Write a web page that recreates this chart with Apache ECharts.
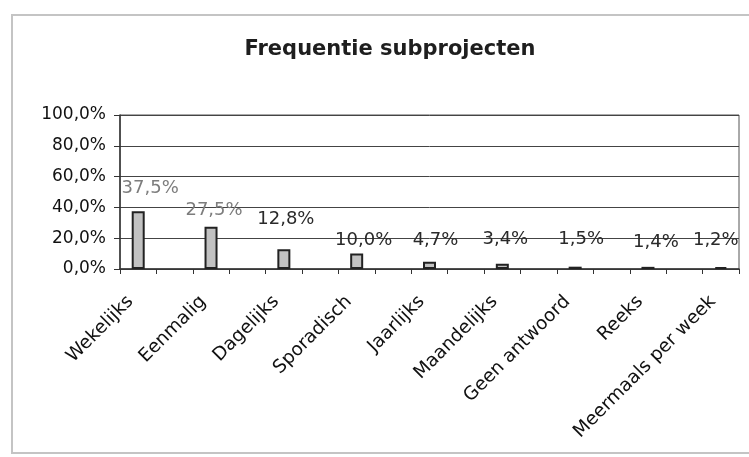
<!DOCTYPE html>
<html>
<head>
<meta charset="utf-8">
<script src="https://cdn.jsdelivr.net/npm/echarts@6/dist/echarts.min.js"></script>
<style>
  html, body { margin: 0; padding: 0; background: #fff; }
  #chart { width: 749px; height: 457px; }
</style>
</head>
<body>
<div id="chart"></div>
<script>
// Frequency of sub-projects, share of all sub-projects (%)
const categories = ['Wekelijks', 'Eenmalig', 'Dagelijks', 'Sporadisch', 'Jaarlijks',
  'Maandelijks', 'Geen antwoord', 'Reeks', 'Meermaals per week'];
const shares = [37.5, 27.5, 12.8, 10.0, 4.7, 3.4, 1.5, 1.4, 1.2];
const yTicks = [0, 20, 40, 60, 80, 100];

// Per-label nudges and colours for the value labels
const labelNudges = [[12, -9], [3, -2], [2, -16], [7, 1], [6, -7], [3, -10], [6, -13], [8, -11], [-5, -13]];
const labelColors = ['#7d7d7d', '#7d7d7d', '#2a2a2a', '#2a2a2a', '#2a2a2a', '#2a2a2a', '#2a2a2a', '#2a2a2a', '#2a2a2a'];

const pct = v => v.toFixed(1).replace('.', ',') + '%';

// The axis has a spacer slot between every pair of categories
const slots = [];
const barData = [];
categories.forEach((name, i) => {
  slots.push(name);
  barData.push({
    value: shares[i],
    label: { offset: labelNudges[i], color: labelColors[i] }
  });
  if (i < categories.length - 1) {
    slots.push('');
    barData.push('-');
  }
});

const chart = echarts.init(document.getElementById('chart'), null, { renderer: 'canvas' });
chart.setOption({
  animation: false,
  backgroundColor: '#fff',
  graphic: [{
    type: 'rect',
    shape: { x: 12, y: 15, width: 745, height: 438 },
    style: { fill: 'none', stroke: '#c4c4c4', lineWidth: 2 },
    silent: true,
    z: -1
  }],
  title: {
    text: 'Frequentie subprojecten',
    left: 385,
    top: 34,
    textAlign: 'center',
    textStyle: { fontFamily: 'DejaVu Sans', fontSize: 21, fontWeight: 'bold', color: '#1e1e1e' }
  },
  grid: {
    left: 120, right: 10, top: 115, bottom: 188,
    show: true, borderColor: '#555', borderWidth: 1, backgroundColor: 'transparent'
  },
  xAxis: {
    type: 'category',
    data: slots,
    boundaryGap: true,
    axisLine: { lineStyle: { color: '#333', width: 1.5 } },
    axisTick: { show: true, interval: 0, length: 5, alignWithLabel: false, lineStyle: { color: '#333' } },
    axisLabel: {
      interval: 0,
      rotate: 45,
      margin: 22,
      padding: [0, 11, 0, 0],
      fontFamily: 'DejaVu Sans',
      fontSize: 18.5,
      color: '#111'
    }
  },
  yAxis: {
    type: 'value',
    min: yTicks[0],
    max: yTicks[yTicks.length - 1],
    interval: yTicks[1] - yTicks[0],
    axisLine: { show: true, lineStyle: { color: '#333', width: 1.5 } },
    axisTick: { show: true, length: 6, lineStyle: { color: '#333' } },
    splitLine: { show: true, lineStyle: { color: '#444', width: 1 } },
    axisLabel: {
      margin: 14,
      fontFamily: 'DejaVu Sans',
      fontSize: 17,
      color: '#111',
      formatter: v => pct(v)
    }
  },
  series: [{
    type: 'bar',
    data: barData,
    barWidth: 13,
    itemStyle: { color: '#c2c2c2', borderColor: '#222', borderWidth: 2 },
    label: {
      show: true,
      position: 'top',
      distance: 5,
      fontFamily: 'DejaVu Sans',
      fontSize: 18,
      formatter: p => pct(p.value)
    }
  }]
});
</script>
</body>
</html>
